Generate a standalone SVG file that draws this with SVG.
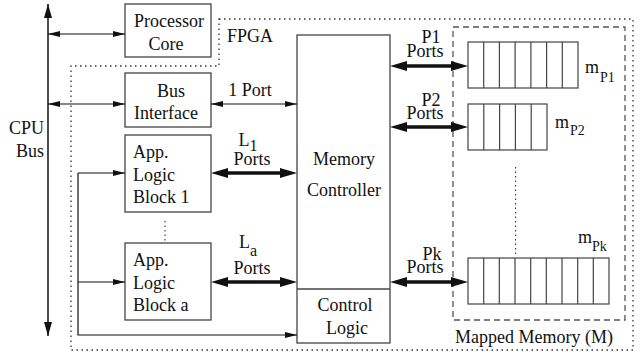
<svg xmlns="http://www.w3.org/2000/svg" width="640" height="356" viewBox="0 0 640 356">
<style>
.box{fill:#fff;stroke:#444;stroke-width:1.3}
text{font-family:"Liberation Serif","Times New Roman","DejaVu Serif",serif;font-size:18px;fill:#111}
.s{font-size:14px}
.c{text-anchor:middle}
.thin{stroke:#111;stroke-width:1.2;fill:none;marker-start:url(#ah);marker-end:url(#ah)}
.one{stroke:#111;stroke-width:1.2;fill:none;marker-end:url(#ah)}
.thick{stroke:#111;stroke-width:3.5;fill:none;marker-start:url(#ahT);marker-end:url(#ahT)}
.cell{fill:none;stroke:#444;stroke-width:1.2}
</style>
<defs>
<marker id="ah" viewBox="0 0 12 6" refX="12" refY="3" markerWidth="12" markerHeight="6" markerUnits="userSpaceOnUse" orient="auto-start-reverse"><path d="M0,0 L12,3 L0,6 z" fill="#111"/></marker>
<marker id="ahB" viewBox="0 0 14 8" refX="14" refY="4" markerWidth="14" markerHeight="8" markerUnits="userSpaceOnUse" orient="auto-start-reverse"><path d="M0,0 L14,4 L0,8 z" fill="#111"/></marker>
<marker id="ahT" viewBox="0 0 17 10" refX="8" refY="5" markerWidth="17" markerHeight="10" markerUnits="userSpaceOnUse" orient="auto-start-reverse"><path d="M0,0 L17,5 L0,10 z" fill="#111"/></marker>
</defs>

<g id="fpga-boundary">
<polygon points="219,19 633,19 633,350 71,350 71,66 219,66" fill="none" stroke="#333" stroke-width="1.3" stroke-dasharray="1.5 3.5"/>
<text font-family="Liberation Serif, serif" x="227" y="42">FPGA</text>
</g>

<g id="cpu-bus">
<line x1="48" y1="4" x2="48" y2="336" stroke="#111" stroke-width="1.5" marker-start="url(#ahB)" marker-end="url(#ahB)"/>
<text font-family="Liberation Serif, serif" text-anchor="end"><tspan x="44" y="134">CPU</tspan><tspan x="44" y="157">Bus</tspan></text>
</g>

<g id="processor-core">
<rect class="box" x="125" y="4" width="86" height="53"/>
<text font-family="Liberation Serif, serif" class="c"><tspan x="169" y="27">Processor</tspan><tspan x="166" y="50">Core</tspan></text>
</g>

<g id="bus-interface">
<rect class="box" x="125" y="73" width="86" height="54"/>
<text font-family="Liberation Serif, serif" class="c"><tspan x="171" y="97">Bus</tspan><tspan x="166" y="119">Interface</tspan></text>
</g>

<g id="app-logic-1">
<rect class="box" x="125" y="135" width="86" height="77"/>
<text font-family="Liberation Serif, serif"><tspan x="133" y="158">App.</tspan><tspan x="133" y="181">Logic</tspan><tspan x="133" y="203">Block 1</tspan></text>
</g>

<g id="app-logic-a">
<rect class="box" x="125" y="243" width="86" height="77"/>
<text font-family="Liberation Serif, serif"><tspan x="133" y="266">App.</tspan><tspan x="133" y="289">Logic</tspan><tspan x="133" y="311">Block a</tspan></text>
</g>

<g id="memory-controller">
<rect class="box" x="297" y="35" width="93" height="308"/>
<line x1="297" y1="289" x2="390" y2="289" stroke="#444" stroke-width="1.3"/>
<text font-family="Liberation Serif, serif" class="c"><tspan x="344" y="165">Memory</tspan><tspan x="344" y="196">Controller</tspan></text>
<text font-family="Liberation Serif, serif" class="c"><tspan x="345" y="311">Control</tspan><tspan x="347" y="334">Logic</tspan></text>
</g>

<g id="mapped-memory">
<rect x="453" y="27" width="172" height="293" fill="none" stroke="#555" stroke-width="1.3" stroke-dasharray="6 4"/>
<text font-family="Liberation Serif, serif" x="455" y="343">Mapped Memory (M)</text>
<line x1="515.6" y1="167" x2="515.6" y2="256" stroke="#222" stroke-width="1" stroke-dasharray="1.5 3"/>
</g>

<g id="mem-p1">
<rect class="cell" x="468" y="42" width="110" height="46"/>
<path class="cell" d="M483.7,42V88M499.4,42V88M515.1,42V88M530.9,42V88M546.6,42V88M562.3,42V88"/>
<text font-family="Liberation Serif, serif" x="585" y="73">m<tspan class="s" dy="9" dx="1">P1</tspan></text>
</g>

<g id="mem-p2">
<rect class="cell" x="468" y="104" width="79" height="46"/>
<path class="cell" d="M483.8,104V150M499.6,104V150M515.4,104V150M531.2,104V150"/>
<text font-family="Liberation Serif, serif" x="555" y="128">m<tspan class="s" dy="7" dx="1">P2</tspan></text>
</g>

<g id="mem-pk">
<rect class="cell" x="468" y="258" width="141" height="46"/>
<path class="cell" d="M483.7,258V304M499.3,258V304M515,258V304M530.7,258V304M546.3,258V304M562,258V304M577.7,258V304M593.3,258V304"/>
<text font-family="Liberation Serif, serif" x="578" y="243">m<tspan class="s" dy="8" dx="0">Pk</tspan></text>
</g>

<g id="connectors">
<line class="thin" x1="48" y1="34" x2="125" y2="34"/>
<line class="thin" x1="48" y1="104" x2="125" y2="104"/>
<line class="thin" x1="211" y1="104" x2="297" y2="104"/>
<line class="thick" x1="220" y1="173" x2="288" y2="173"/>
<line class="thick" x1="220" y1="282" x2="288" y2="282"/>
<line class="thick" x1="399" y1="66" x2="459" y2="66"/>
<line class="thick" x1="399" y1="127" x2="459" y2="127"/>
<line class="thick" x1="399" y1="282" x2="459" y2="282"/>
<polyline points="78,173 78,335 297,335" fill="none" stroke="#111" stroke-width="1.2" marker-end="url(#ah)"/>
<line class="one" x1="78" y1="173" x2="125" y2="173"/>
<line class="one" x1="78" y1="282" x2="125" y2="282"/>
<line x1="165" y1="221" x2="165" y2="241" stroke="#222" stroke-width="1" stroke-dasharray="1.5 3"/>
<text font-family="Liberation Serif, serif" class="c" x="250" y="96">1 Port</text>
<text font-family="Liberation Serif, serif" class="c"><tspan x="248" y="146">L<tspan font-size="16" dy="5">1</tspan></tspan><tspan x="252" y="165">Ports</tspan></text>
<text font-family="Liberation Serif, serif" class="c"><tspan x="248" y="248">L<tspan font-size="16" dy="8">a</tspan></tspan><tspan x="252" y="274">Ports</tspan></text>
<text font-family="Liberation Serif, serif" class="c"><tspan x="431" y="43">P1</tspan><tspan x="425" y="57">Ports</tspan></text>
<text font-family="Liberation Serif, serif" class="c"><tspan x="431" y="106">P2</tspan><tspan x="425" y="119">Ports</tspan></text>
<text font-family="Liberation Serif, serif" class="c"><tspan x="432" y="260">Pk</tspan><tspan x="425" y="273">Ports</tspan></text>
</g>
</svg>
